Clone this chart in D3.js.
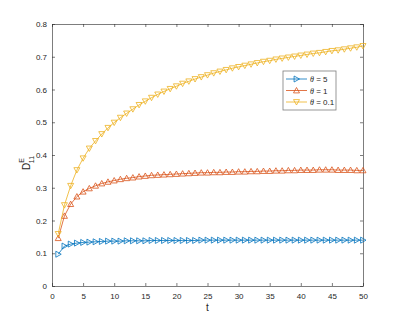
<!DOCTYPE html>
<html>
<head>
<meta charset="utf-8">
<script src="https://cdn.jsdelivr.net/npm/d3@7"></script>
<style>
  body { margin: 0; background: #fff; }
  svg { display: block; font-family: "Liberation Sans", Arial, sans-serif; }
</style>
</head>
<body>
<div id="chart"></div>
<script>
const W = 402, H = 322;
const margin = {top: 24, right: 39, bottom: 36, left: 52};

// data, t = 1..50
const tValues = d3.range(1, 51);
const theta5 = [0.097, 0.122, 0.128, 0.131, 0.133, 0.134, 0.135, 0.136, 0.137, 0.137,
    0.137, 0.138, 0.138, 0.138, 0.138, 0.139, 0.139, 0.139, 0.139, 0.139,
    0.139, 0.139, 0.139, 0.140, 0.140, 0.140, 0.140, 0.140, 0.140, 0.140,
    0.140, 0.140, 0.140, 0.140, 0.140, 0.140, 0.140, 0.140, 0.140, 0.140,
    0.140, 0.140, 0.140, 0.140, 0.140, 0.140, 0.140, 0.140, 0.140, 0.140];
const theta1 = [0.146, 0.214, 0.250, 0.273, 0.288, 0.298, 0.306, 0.313, 0.318, 0.322,
    0.326, 0.329, 0.331, 0.334, 0.336, 0.338, 0.339, 0.340, 0.341, 0.342,
    0.343, 0.344, 0.345, 0.346, 0.346, 0.347, 0.347, 0.348, 0.348, 0.349,
    0.349, 0.350, 0.350, 0.351, 0.351, 0.352, 0.352, 0.353, 0.353, 0.354,
    0.354, 0.354, 0.355, 0.355, 0.355, 0.354, 0.354, 0.354, 0.353, 0.353];
const theta01 = [0.159, 0.247, 0.306, 0.354, 0.390, 0.420, 0.443, 0.464, 0.483, 0.499,
    0.514, 0.527, 0.540, 0.553, 0.564, 0.575, 0.585, 0.594, 0.602, 0.610,
    0.618, 0.625, 0.632, 0.638, 0.644, 0.650, 0.655, 0.660, 0.665, 0.669,
    0.673, 0.677, 0.681, 0.685, 0.688, 0.692, 0.695, 0.698, 0.701, 0.704,
    0.707, 0.710, 0.712, 0.715, 0.718, 0.720, 0.723, 0.726, 0.729, 0.733];
const xTicks = [0, 5, 10, 15, 20, 25, 30, 35, 40, 45, 50];
const yTicks = [0, 0.1, 0.2, 0.3, 0.4, 0.5, 0.6, 0.7, 0.8];
const seriesNames = ["5", "1", "0.1"];
const seriesColors = ["#0072BD", "#D95319", "#EDB120"];
const seriesMarkers = ["right", "up", "down"];

const series = [theta5, theta1, theta01].map((vals, i) => ({
    name: seriesNames[i], color: seriesColors[i], marker: seriesMarkers[i],
    values: vals.map((v, j) => [tValues[j], v])
}));

const svg = d3.select("#chart").append("svg")
    .attr("width", W).attr("height", H);

const x = d3.scaleLinear().domain([0, 50]).range([margin.left, W - margin.right]);
const y = d3.scaleLinear().domain([0, 0.8]).range([H - margin.bottom, margin.top]);

// triangle marker paths, ~6px
function markerPath(kind) {
    const s = 3;
    if (kind === "up") return `M0,${-s}L${s},${s * 0.8}L${-s},${s * 0.8}Z`;
    if (kind === "down") return `M0,${s}L${s},${-s * 0.8}L${-s},${-s * 0.8}Z`;
    return `M${s},0L${-s * 0.8},${s}L${-s * 0.8},${-s}Z`;
}

const axisColor = "#262626";
const tickLen = 3;

// axes (MATLAB style: ticks inward, box on)
const xAxis = svg.append("g")
    .attr("transform", `translate(0,${H - margin.bottom})`)
    .call(d3.axisBottom(x).tickValues(xTicks).tickSizeInner(-tickLen).tickSizeOuter(0).tickPadding(7));
const yAxis = svg.append("g")
    .attr("transform", `translate(${margin.left},0)`)
    .call(d3.axisLeft(y).tickValues(yTicks).tickSizeInner(-tickLen).tickSizeOuter(0).tickPadding(5)
        .tickFormat(d => d === 0 ? "0" : d3.format(".1f")(d)));
const xTop = svg.append("g")
    .attr("transform", `translate(0,${margin.top})`)
    .call(d3.axisTop(x).tickValues(xTicks).tickSizeInner(-tickLen).tickSizeOuter(0).tickFormat(""));
const yRight = svg.append("g")
    .attr("transform", `translate(${W - margin.right},0)`)
    .call(d3.axisRight(y).tickValues(yTicks).tickSizeInner(-tickLen).tickSizeOuter(0).tickFormat(""));

[xAxis, yAxis, xTop, yRight].forEach(g => {
    g.selectAll("path, line").attr("stroke", axisColor).attr("stroke-opacity", 0.6);
    g.selectAll("text").attr("fill", axisColor).style("font-size", "8px")
        .style("font-family", "'Liberation Sans', Arial, sans-serif");
});

// lines and markers
const line = d3.line().x(d => x(d[0])).y(d => y(d[1]));
series.forEach(s => {
    svg.append("path")
        .datum(s.values)
        .attr("fill", "none")
        .attr("stroke", s.color)
        .attr("stroke-width", 0.8)
        .attr("d", line);
    svg.append("g").selectAll("path")
        .data(s.values)
        .join("path")
        .attr("transform", d => `translate(${x(d[0])},${y(d[1])})`)
        .attr("d", markerPath(s.marker))
        .attr("fill", "none")
        .attr("stroke", s.color)
        .attr("stroke-width", 0.8);
});

// axis labels
svg.append("text")
    .attr("x", (margin.left + W - margin.right) / 2)
    .attr("y", 311)
    .attr("text-anchor", "middle")
    .attr("fill", axisColor)
    .style("font-size", "10px")
    .text("t");

const yl = svg.append("text")
    .attr("transform", `translate(30,${(margin.top + H - margin.bottom) / 2 + 8}) rotate(-90)`)
    .attr("text-anchor", "middle")
    .attr("fill", axisColor)
    .style("font-size", "10px");
yl.append("tspan").text("D");
yl.append("tspan").attr("dy", -6).style("font-size", "7px").text("E");
yl.append("tspan").attr("dx", -5).attr("dy", 10).style("font-size", "7px").text("11");

// legend
const lg = svg.append("g").attr("transform", "translate(283,71)");
lg.append("rect")
    .attr("width", 53).attr("height", 39)
    .attr("fill", "#fff")
    .attr("stroke", axisColor).attr("stroke-opacity", 0.6).attr("stroke-width", 0.8);
series.forEach((s, i) => {
    const row = lg.append("g").attr("transform", `translate(0,${8 + i * 11.5})`);
    row.append("line").attr("x1", 3).attr("x2", 24).attr("stroke", s.color).attr("stroke-width", 0.8);
    row.append("path").attr("transform", "translate(13.5,0)").attr("d", markerPath(s.marker))
        .attr("fill", "none").attr("stroke", s.color).attr("stroke-width", 0.8);
    const t = row.append("text").attr("x", 27).attr("y", 3.2).attr("fill", axisColor).style("font-size", "8px");
    t.append("tspan").style("font-style", "italic").style("font-family", "'Liberation Serif', serif").text("θ");
    t.append("tspan").text(" = " + s.name);
});
</script>
</body>
</html>
